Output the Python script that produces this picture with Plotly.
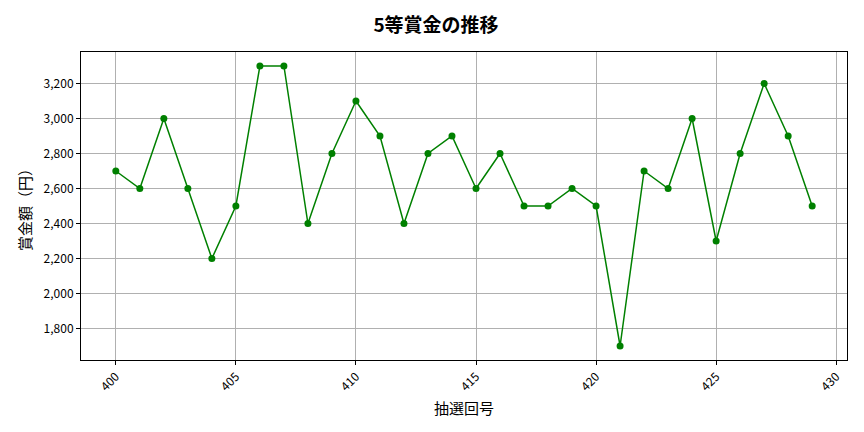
import plotly.graph_objects as go

draws = list(range(400, 430))
prize = [2700, 2600, 3000, 2600, 2200, 2500, 3300, 3300, 2400, 2800,
         3100, 2900, 2400, 2800, 2900, 2600, 2800, 2500, 2500, 2600,
         2500, 1700, 2700, 2600, 3000, 2300, 2800, 3200, 2900, 2500]

font = "Noto Sans CJK JP"

fig = go.Figure()
fig.add_trace(go.Scatter(
    x=draws, y=prize, mode="lines+markers",
    line=dict(color="green", width=1.5),
    marker=dict(color="green", size=7),
))

# page has an 8px body margin, so the figure is drawn 8px smaller
fig.update_layout(
    width=856, height=424,
    margin=dict(l=73, r=17, t=44, b=72),
    paper_bgcolor="white", plot_bgcolor="white",
    font=dict(family=font, color="black", size=12),
    title=dict(text="<b>5等賞金の推移</b>", x=0.5, xanchor="center",
               y=0.96, yanchor="middle", font=dict(size=19)),
    showlegend=False,
)
fig.update_xaxes(
    range=[398.55, 430.45], tickvals=[400, 405, 410, 415, 420, 425, 430],
    tickangle=-45, showgrid=True, gridcolor="#b0b0b0", gridwidth=0.8,
    showline=True, linecolor="black", linewidth=1, mirror=True,
    ticks="outside", ticklen=4, tickcolor="black", zeroline=False,
    title=dict(text="抽選回号", font=dict(size=15), standoff=10),
)
fig.update_yaxes(
    range=[1620, 3380], tickvals=list(range(1800, 3400, 200)),
    tickformat=",d", showgrid=True, gridcolor="#b0b0b0", gridwidth=0.8,
    showline=True, linecolor="black", linewidth=1, mirror=True,
    ticks="outside", ticklen=4, tickcolor="black", zeroline=False,
    title=dict(text="賞金額（円）", font=dict(size=15), standoff=8),
)

fig.write_html("out.html")
